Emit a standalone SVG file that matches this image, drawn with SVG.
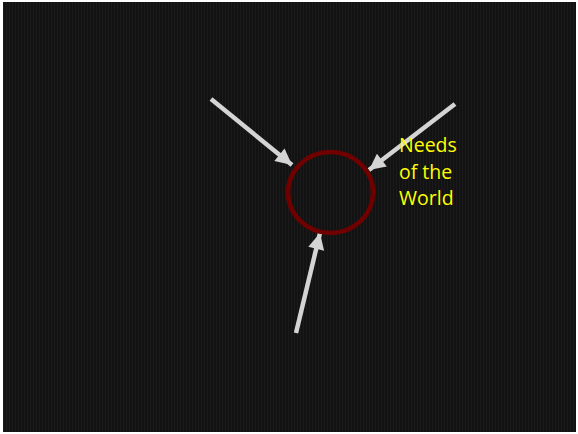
<svg xmlns="http://www.w3.org/2000/svg" width="578" height="434" viewBox="0 0 578 434">
  <style>
    .arrow { stroke: #d4d4d4; stroke-width: 4.5; fill: none; marker-end: url(#head); }
    .label { font-family: "Open Sans", "Liberation Sans", sans-serif; font-size: 19.5px; fill: #ffff00; }
  </style>
  <defs>
    <pattern id="stripes" x="0" y="0" width="3" height="4" patternUnits="userSpaceOnUse">
      <rect width="3" height="4" fill="#121212"/>
      <rect width="1" height="4" fill="#1b1b1b"/>
    </pattern>
    <marker id="head" viewBox="0 0 10 10" refX="10" refY="5" markerWidth="4" markerHeight="3.6" markerUnits="strokeWidth" orient="auto">
      <path d="M0,0 L10,5 L0,10 Z" fill="#d4d4d4"/>
    </marker>
  </defs>
  <rect width="578" height="434" fill="#ffffff"/>
  <rect x="3" y="2" width="573" height="430" fill="url(#stripes)"/>
  <g id="connectors">
    <line class="arrow" x1="211" y1="99" x2="292" y2="165"/>
    <line class="arrow" x1="455" y1="104" x2="369" y2="170"/>
    <line class="arrow" x1="296" y1="333" x2="320" y2="233"/>
  </g>
  <g id="circle">
    <ellipse cx="330.5" cy="192.5" rx="42.5" ry="40.5" fill="none" stroke="#700000" stroke-width="4.5"/>
  </g>
  <g id="needs-label">
    <text class="label" x="399" y="152">Needs</text>
    <text class="label" x="399" y="179">of the</text>
    <text class="label" x="399" y="205">World</text>
  </g>
</svg>
